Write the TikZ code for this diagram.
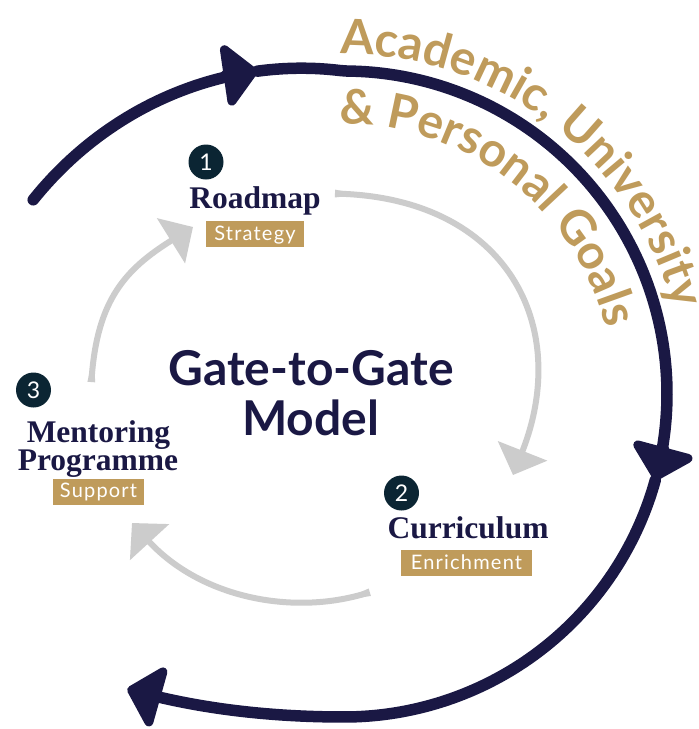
\documentclass[tikz,border=0pt]{standalone}
\usepackage{fontspec}
\usetikzlibrary{arrows.meta,decorations.text}
\newfontfamily\lato{Lato}
\newfontfamily\tagfontfam[LetterSpace=6]{Lato}
\newfontfamily\stagefont{Liberation Serif}
\definecolor{navy}{HTML}{1A1844}
\definecolor{circ}{HTML}{0B2533}
\definecolor{goldc}{HTML}{BF9B5B}
\definecolor{lgray}{HTML}{CCCCCC}
\newcommand\curvefont{\lato\bfseries\fontsize{48}{48}\selectfont}
\begin{document}
\begin{tikzpicture}[x=1pt,y=1pt,
  declare function={rr(\t)=323+0.75*max(\t-90,0)+0.0326*(max(-90-\t,0))^2;},
  navyline/.style={draw=navy, line width=11.5pt, line cap=round, line join=round, -{Triangle[width=72pt,length=36pt,round]}},
  grayline/.style={draw=lgray, line width=6pt, {Triangle[width=6pt,length=24pt]}-{Triangle[width=52pt,length=26pt]}},
  numc/.style={circle, fill=circ, minimum size=35pt, inner sep=0pt, text=white, font=\lato\fontsize{23}{23}\selectfont},
  stage/.style={text=navy, font=\stagefont\bfseries\fontsize{31.5}{31.5}\selectfont, inner sep=0pt, anchor=base},
  tagbox/.style={fill=goldc, text=white, font=\tagfontfam\fontsize{20}{20}\selectfont, inner xsep=0pt, inner ysep=4pt, text height=15pt, text depth=3pt},
  titletext/.style={text=navy, font=\lato\bfseries\fontsize{48}{48}\selectfont, inner sep=0pt, anchor=base}]
\useasboundingbox (0,0) rectangle (699,-729);
\fill[white] (0,0) rectangle (699,-729);

\coordinate (oc) at (344,-394);

% outer navy cycle (three strokes, each ending in an arrowhead)
\draw[navyline] plot[domain=148:105, samples=40, variable=\t] ({344+rr(\t)*cos(\t)}, {-394+rr(\t)*sin(\t)});
\draw[navyline] plot[domain=105:-15.5, samples=110, variable=\t] ({344+rr(\t)*cos(\t)}, {-394+rr(\t)*sin(\t)});
\draw[navyline] plot[domain=-15.5:-126.3, samples=110, variable=\t] ({344+rr(\t)*cos(\t)}, {-394+rr(\t)*sin(\t)});

% curved goals text
\path[decorate, decoration={text along path, text={|\curvefont|Academic, University}, text align=center, text color=goldc}]
  (oc) ++(100:340) arc[start angle=100, end angle=5, radius=340];
\path[decorate, decoration={text along path, text={|\curvefont|{\&} Personal Goals}, text align=center, text color=goldc}]
  (oc) ++(100:270) arc[start angle=100, end angle=5, radius=270];

% inner gray cycle
\coordinate (a0) at (317,-193);
\coordinate (a1) at (513,-475);
\coordinate (b0) at (387,-587);
\coordinate (b1) at (132,-523);
\coordinate (c0) at (90,-400);
\coordinate (c1) at (193,-227);
\draw[grayline] (a0) .. controls (507,-199) and (572,-326) .. (a1);
\draw[grayline] (b0) .. controls (291,-616) and (200,-597) .. (b1);
\draw[grayline] (c0) .. controls (97.5,-300) and (125,-269.4) .. (c1);

% centre title
\node[titletext] (g1) at (311,-385) {Gate-to-Gate};
\node[titletext] (g2) at (310.5,-435) {Model};

% stage 1
\node[numc] (n1) at (206,-162) {1};
\node[stage] (r1) at (255,-208) {Roadmap};
\node[tagbox, minimum width=98pt] (b1) at (255,-234) {Strategy};

% stage 2
\node[numc] (n2) at (401.5,-493) {2};
\node[stage] (r2) at (468,-538) {Curriculum};
\node[tagbox, minimum width=131pt] (b2) at (466.5,-563) {Enrichment};

% stage 3
\node[numc] (n3) at (33.5,-390) {3};
\node[stage] (r3a) at (98.5,-442) {Mentoring};
\node[stage] (r3b) at (98,-470) {Programme};
\node[tagbox, minimum width=91pt] (b3) at (98.5,-491.5) {Support};
\end{tikzpicture}
\end{document}
